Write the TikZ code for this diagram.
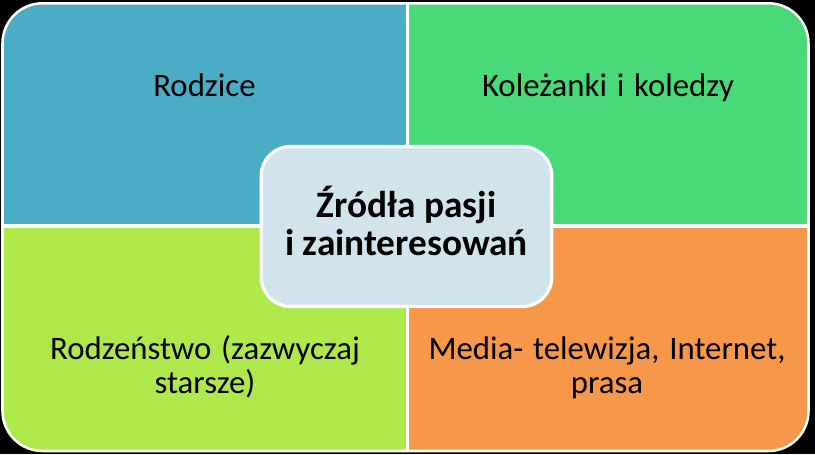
\documentclass[tikz,border=0pt]{standalone}
\usepackage{fontspec}
\setmainfont{Carlito}
\usepackage{tikz}
\usetikzlibrary{positioning}
\definecolor{quadblue}{HTML}{4BACC6}
\definecolor{quadgreen}{HTML}{4AD978}
\definecolor{quadlime}{HTML}{AFE84A}
\definecolor{quadorange}{HTML}{F79749}
\definecolor{hubfill}{HTML}{D1E4EB}
\newcommand{\quadfont}{\fontsize{24.6}{25.5}\selectfont\spaceskip=0.3em plus 0.1em\relax}
\tikzset{
  quadtext/.style={align=center, text=black, inner sep=0pt, anchor=base,
    font=\quadfont},
  hubbox/.style={draw=white, line width=2.4pt, fill=hubfill, rounded corners=22pt,
    minimum width=218pt, minimum height=120pt, inner sep=0pt},
  hubtext/.style={align=center, text=black, inner sep=0pt, anchor=base,
    font=\fontsize{28}{28.5}\selectfont\bfseries}
}

\begin{document}
\begin{tikzpicture}[x=0.75pt, y=-0.75pt]

\fill[black] (0,0) rectangle (815,454);
\useasboundingbox (0,0) rectangle (815,454);

% four quarters
\begin{scope}
\clip[rounded corners=30pt] (2.5,3.3) rectangle (808.5,451);
\fill[quadblue] (0,0) rectangle (407.5,226);
\fill[quadgreen] (407.5,0) rectangle (815,226);
\fill[quadlime] (0,226) rectangle (407.5,454);
\fill[quadorange] (407.5,226) rectangle (815,454);
\end{scope}
\draw[white, line width=2.7pt] (407.5,3.3) -- (407.5,451);
\draw[white, line width=3pt] (2.5,226) -- (808.5,226);
\draw[white, line width=1.9pt, rounded corners=30pt] (2.5,3.3) rectangle (808.5,451);

% base = last line
\node[quadtext] (parents) at (204.5,96.5) {Rodzice};
\node[quadtext] (friends) at (608,96.5) {Koleżanki i koledzy};
\node[quadtext] (siblings) at (205,393.3) {Rodzeństwo (zazwyczaj\\starsze)};
\node[quadtext] (media) at (607,393.3) {Media- telewizja, Internet,\\prasa};

% centre
\node[hubbox] (hub) at (406.5,226.5) {};
\node[hubtext] (hubtxt) at (406.5,255) {Źródła pasji\\i zainteresowań};

\end{tikzpicture}
\end{document}
